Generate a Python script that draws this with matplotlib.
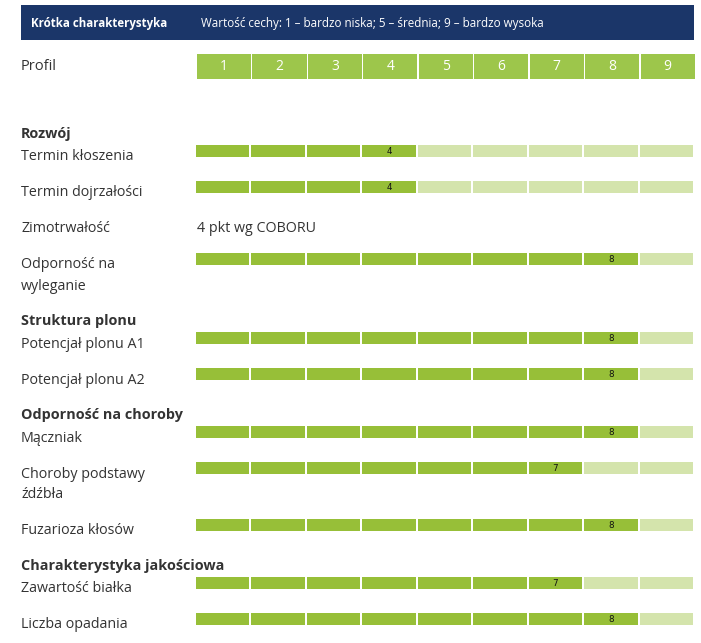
import matplotlib
matplotlib.use("Agg")
import matplotlib.pyplot as plt

# --- data ---
header_title = "Krótka charakterystyka"
header_note = "Wartość cechy: 1 – bardzo niska; 5 – średnia; 9 – bardzo wysoka"
profile_ticks = [1, 2, 3, 4, 5, 6, 7, 8, 9]

sections = ["Rozwój", "Struktura plonu", "Odporność na choroby", "Charakterystyka jakościowa"]
traits = ["Termin kłoszenia", "Termin dojrzałości", "Zimotrwałość", "Odporność na\nwyleganie",
          "Potencjał plonu A1", "Potencjał plonu A2", "Mączniak", "Choroby podstawy\nźdźbła",
          "Fuzarioza kłosów", "Zawartość białka", "Liczba opadania"]
scores = [4, 4, None, 8, 8, 8, 8, 7, 8, 7, 8]
text_values = {"Zimotrwałość": "4 pkt wg COBORU"}

# --- layout (pixels) ---
W, H = 701, 643
row_top = [145, 181, 217, 253, 332, 368, 426, 462, 519, 577, 613]
section_y = [138, 325, 419, 570]
X0, X1 = 196, 695
CELL = (X1 - X0) / 9
BAR_H = 11.7

NAVY = "#1b3669"
PROFILE_GREEN = "#9dc64b"
DARK = "#97bf38"
LIGHT = "#d4e4ac"
TXT = "#333333"

plt.rcParams["font.family"] = ["Open Sans", "DejaVu Sans"]

fig = plt.figure(figsize=(W / 100, H / 100), dpi=100)
ax = fig.add_axes([0, 0, 1, 1])
ax.set_xlim(0, W)
ax.set_ylim(H, 0)
ax.axis("off")

# header band
ax.barh(22.5, 673, height=35, left=21, color=NAVY)
ax.text(31, 27.3, header_title, color="white", fontsize=8.3, fontweight="bold", va="baseline")
ax.text(201, 27.3, header_note, color="white", fontsize=8.4, va="baseline")

# profile row
ax.text(21, 70, "Profil", color=TXT, fontsize=10.5, va="baseline")
for i, t in enumerate(profile_ticks):
    left = X0 + 1 + i * CELL
    ax.barh(66.3, CELL - 1.3, height=24.5, left=left, color=PROFILE_GREEN)
    ax.text(left + (CELL - 1.3) / 2, 66.5, str(t), color="white", fontsize=10, ha="center", va="center")

# section headers
for name, y in zip(sections, section_y):
    ax.text(21, y, name, color=TXT, fontsize=10.4, fontweight="bold", va="baseline")

# traits
for name, score, top in zip(traits, scores, row_top):
    for j, line in enumerate(name.split("\n")):
        ax.text(21, top + 15.5 + j * 21, line, color=TXT, fontsize=10.3, va="baseline")
    if score is None:
        ax.text(197, top + 15.5, text_values[name], color=TXT, fontsize=10.3, va="baseline")
        continue
    for k in range(1, 10):
        left = X0 + (k - 1) * CELL
        ax.barh(top + BAR_H / 2, CELL - 2, height=BAR_H, left=left,
                color=DARK if k <= score else LIGHT)
    ax.text(X0 + (score - 1) * CELL + (CELL - 2) / 2, top + BAR_H / 2 + 0.5, str(score),
            color="#111111", fontsize=6.3, family="DejaVu Sans", ha="center", va="center")

fig.savefig("out.png", dpi=100, facecolor="white")
